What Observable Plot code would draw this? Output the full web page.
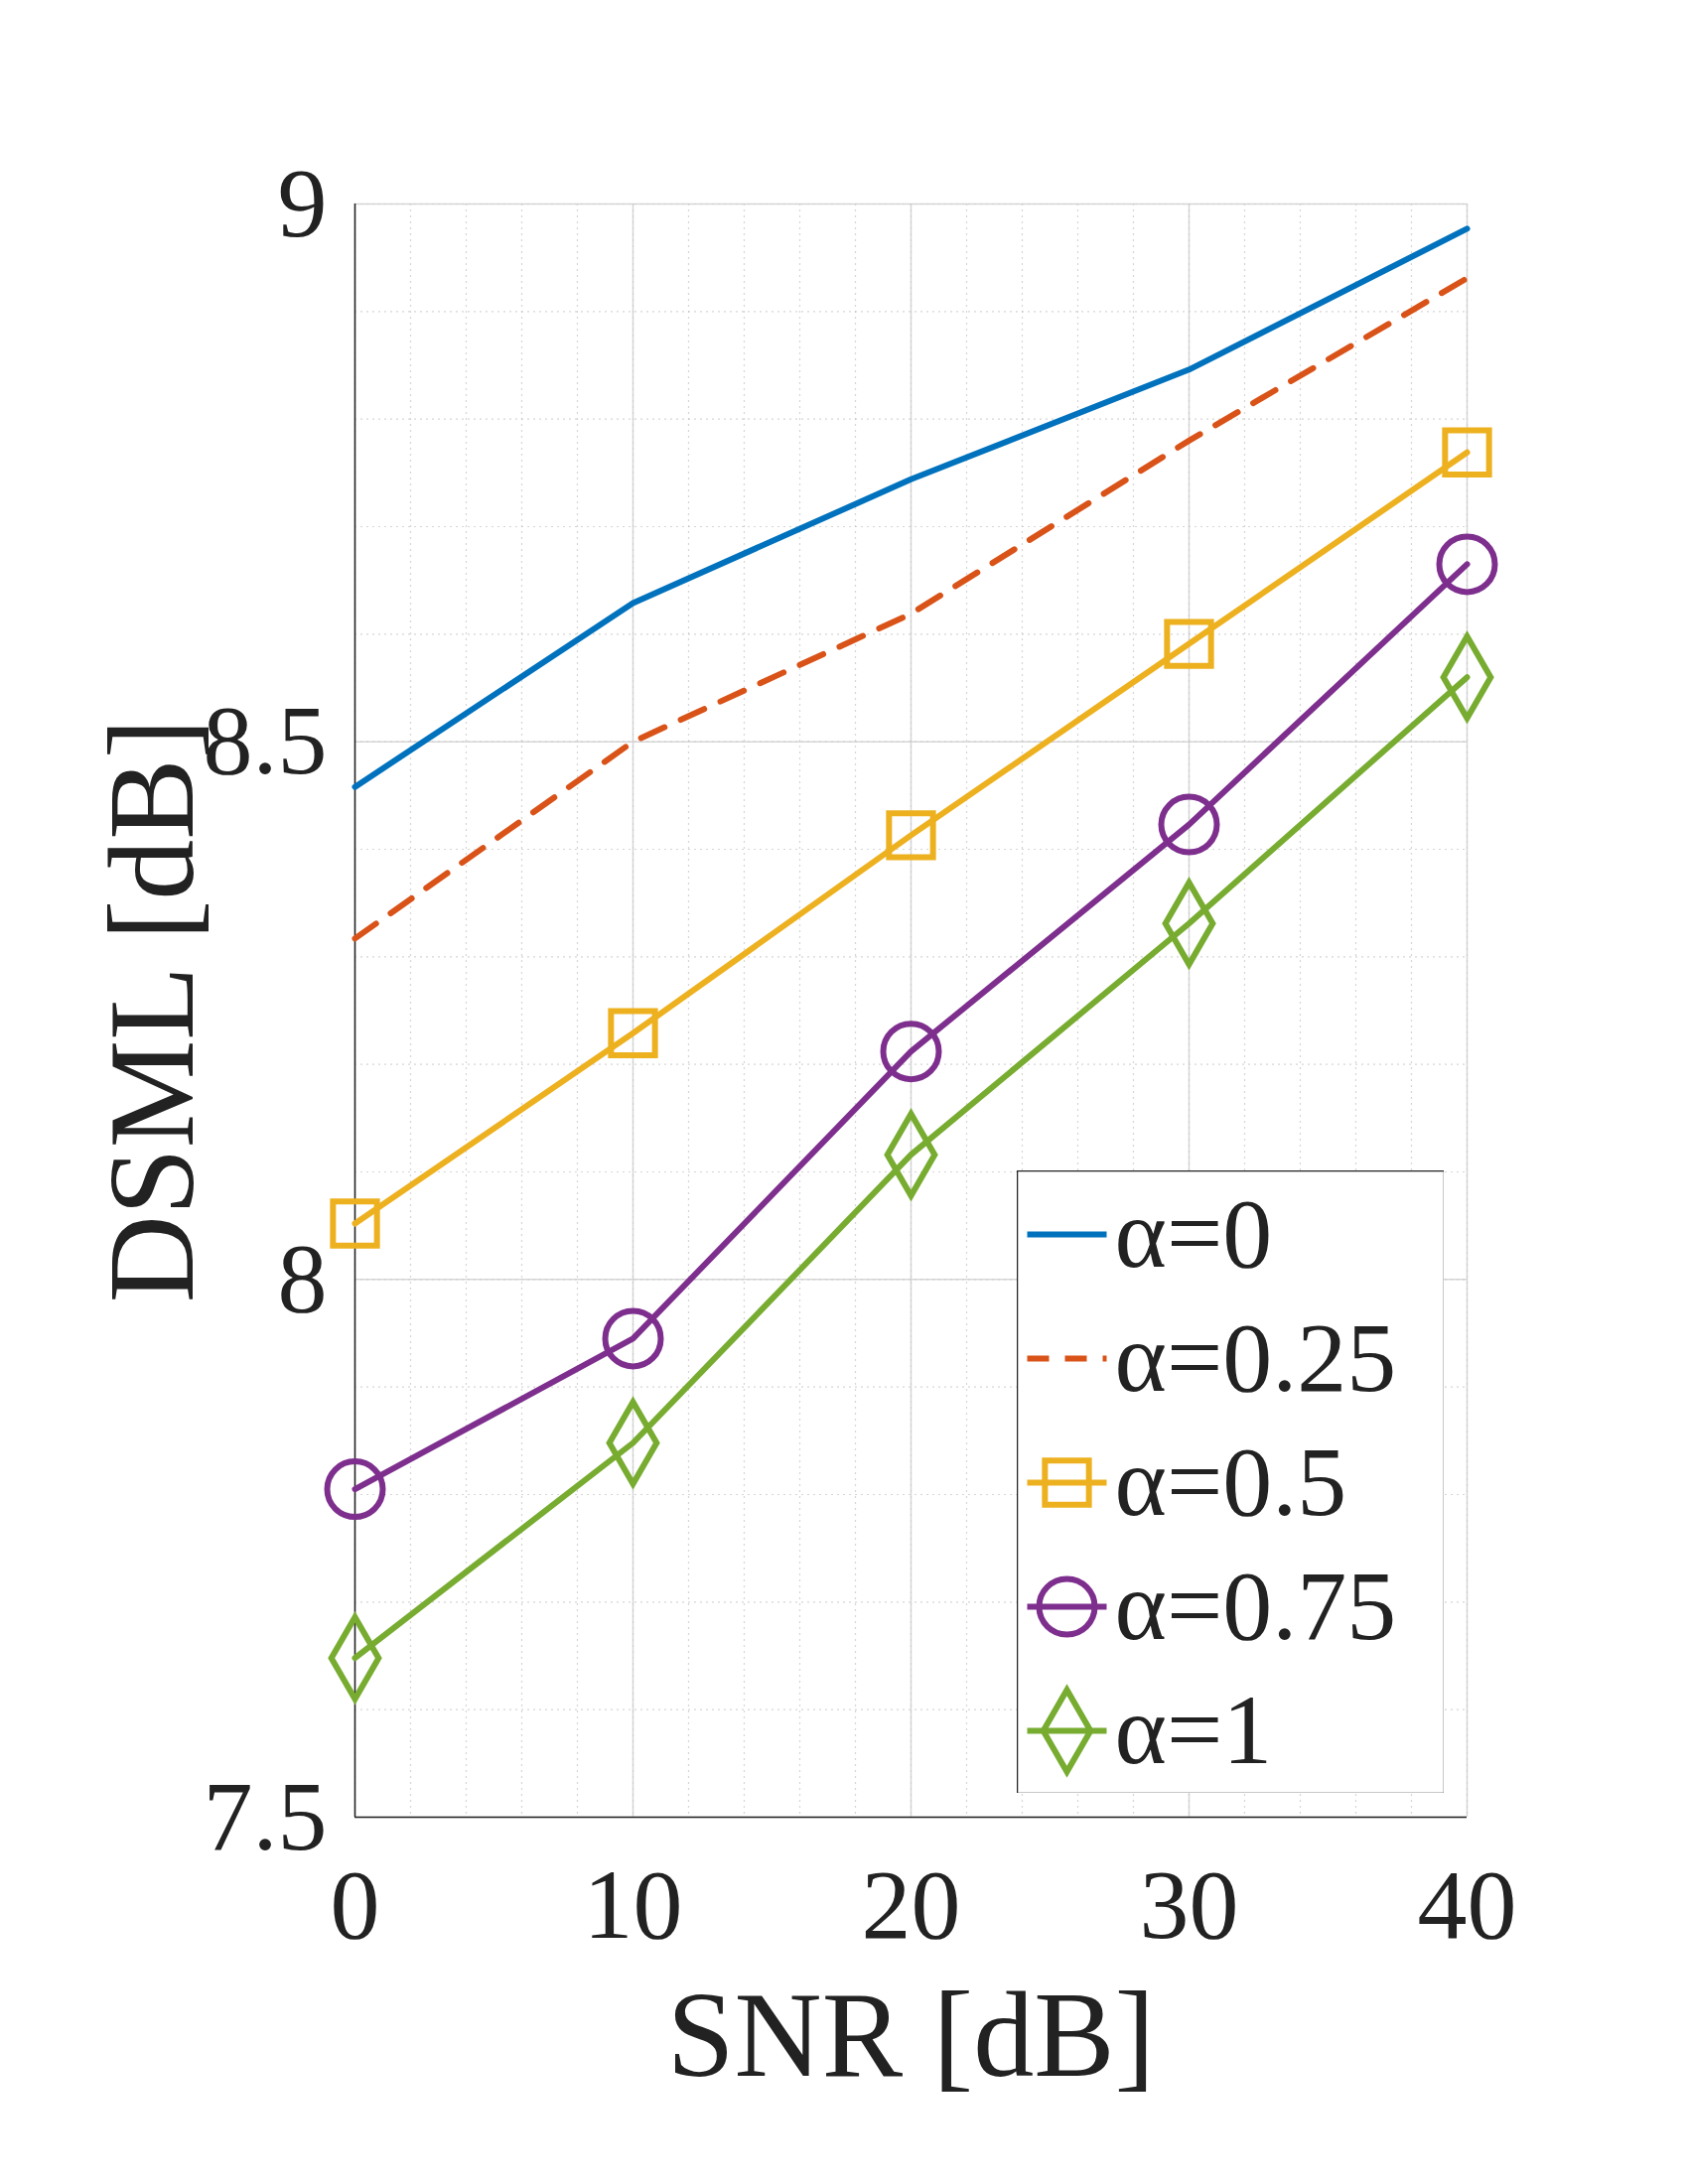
<!DOCTYPE html>
<html>
<head>
<meta charset="utf-8">
<script src="https://cdn.jsdelivr.net/npm/d3@7"></script>
<script src="https://cdn.jsdelivr.net/npm/@observablehq/plot@0.6"></script>
<style>
  body { margin: 0; background: #fff; }
  #wrap { position: relative; width: 1700px; height: 2200px; }
  #legend { position: absolute; left: 1024px; top: 1179px; }
</style>
</head>
<body>
<div id="wrap"><div id="chart"></div><div id="legend"></div></div>
<script>
// SNR values and DSML per alpha
const snr = [0, 10, 20, 30, 40];
const alphas = ["α=0", "α=0.25", "α=0.5", "α=0.75", "α=1"];
const dsml0 = [8.458, 8.629, 8.744, 8.846, 8.977];
const dsml025 = [8.317, 8.50, 8.619, 8.78, 8.931];
const dsml05 = [8.052, 8.229, 8.413, 8.591, 8.769];
const dsml075 = [7.805, 7.945, 8.212, 8.423, 8.665];
const dsml1 = [7.648, 7.848, 8.116, 8.331, 8.56];

const colors = ["#0072BD", "#D95319", "#EDB120", "#7E2F8E", "#77AC30"];
const symbols = [null, null, "square", "circle", "diamond"];
const dashes = [null, "26,18", null, null, null];
const series = [dsml0, dsml025, dsml05, dsml075, dsml1];

const data = series.flatMap((vals, i) => vals.map((v, j) => ({a: alphas[i], i, snr: snr[j], v})));

const font = "'Liberation Serif', 'Times New Roman', serif";

const lineMarks = series.map((vals, i) =>
  Plot.line(data.filter(d => d.i === i), {
    x: "snr", y: "v", stroke: colors[i], strokeWidth: 6,
    strokeDasharray: dashes[i]
  }));
const dotMarks = series.map((vals, i) => symbols[i] ?
  Plot.dot(data.filter(d => d.i === i), {
    x: "snr", y: "v", stroke: colors[i], strokeWidth: 6, fill: "none",
    symbol: () => symbols[i], r: i === 3 ? 28 : 25
  }) : null).filter(Boolean);

const chart = Plot.plot({
  width: 1700, height: 2200,
  marginLeft: 357, marginRight: 223, marginTop: 205, marginBottom: 370,
  style: {fontFamily: font, background: "#fff", color: "#222"},
  x: {domain: [0, 40]},
  y: {domain: [7.5, 9]},
  marks: [
    Plot.gridX(d3.range(0, 41, 2), {stroke: "#bbb", strokeOpacity: 0.6, strokeDasharray: "2,4", strokeWidth: 1.2}),
    Plot.gridY(d3.range(7.5, 9.001, 0.1), {stroke: "#bbb", strokeOpacity: 0.6, strokeDasharray: "2,4", strokeWidth: 1.2}),
    Plot.gridX(snr, {stroke: "#ccc", strokeOpacity: 0.8, strokeWidth: 1.5}),
    Plot.gridY([7.5, 8, 8.5, 9], {stroke: "#ccc", strokeOpacity: 0.8, strokeWidth: 1.5}),
    Plot.axisX({ticks: snr, tickSize: 0, tickPadding: 50, fontSize: 100, label: "SNR [dB]", labelAnchor: "center", labelArrow: "none", labelOffset: 260}),
    Plot.axisY({ticks: [7.5, 8, 8.5, 9], tickFormat: d => String(d), tickSize: 0, tickPadding: 28, fontSize: 100, label: "DSML [dB]", labelAnchor: "center", labelArrow: "none", labelOffset: 250}),
    Plot.ruleX([0], {stroke: "#222", strokeWidth: 1.5}),
    Plot.ruleY([7.5], {stroke: "#222", strokeWidth: 1.5}),
    ...lineMarks,
    ...dotMarks
  ]
});
chart.querySelectorAll("g[aria-label='x-axis label'] text, g[aria-label='y-axis label'] text").forEach(t => t.setAttribute("font-size", 122));
document.getElementById("chart").append(chart);

// Legend
const leg = alphas.map((a, i) => ({a, i}));
const legend = Plot.plot({
  width: 430, height: 627, margin: 0,
  style: {fontFamily: font, background: "#fff"},
  x: {domain: [0, 430], axis: null},
  y: {type: "point", domain: alphas, axis: null, padding: 0.5},
  marks: [
    Plot.frame({stroke: "#222", strokeWidth: 1.5}),
    ...leg.map(d => Plot.link([d], {x1: () => 10, x2: () => 90, y1: "a", y2: "a", stroke: colors[d.i], strokeWidth: 6, strokeDasharray: d.i === 1 ? "22,16" : null})),
    ...leg.filter(d => symbols[d.i]).map(d => Plot.dot([d], {x: () => 50, y: "a", symbol: () => symbols[d.i], stroke: colors[d.i], strokeWidth: 6, fill: "none", r: d.i === 3 ? 28 : 25})),
    Plot.text(leg, {x: () => 98, y: "a", text: "a", textAnchor: "start", fontSize: 100, fill: "#222"})
  ]
});
document.getElementById("legend").append(legend);
</script>
</body>
</html>
